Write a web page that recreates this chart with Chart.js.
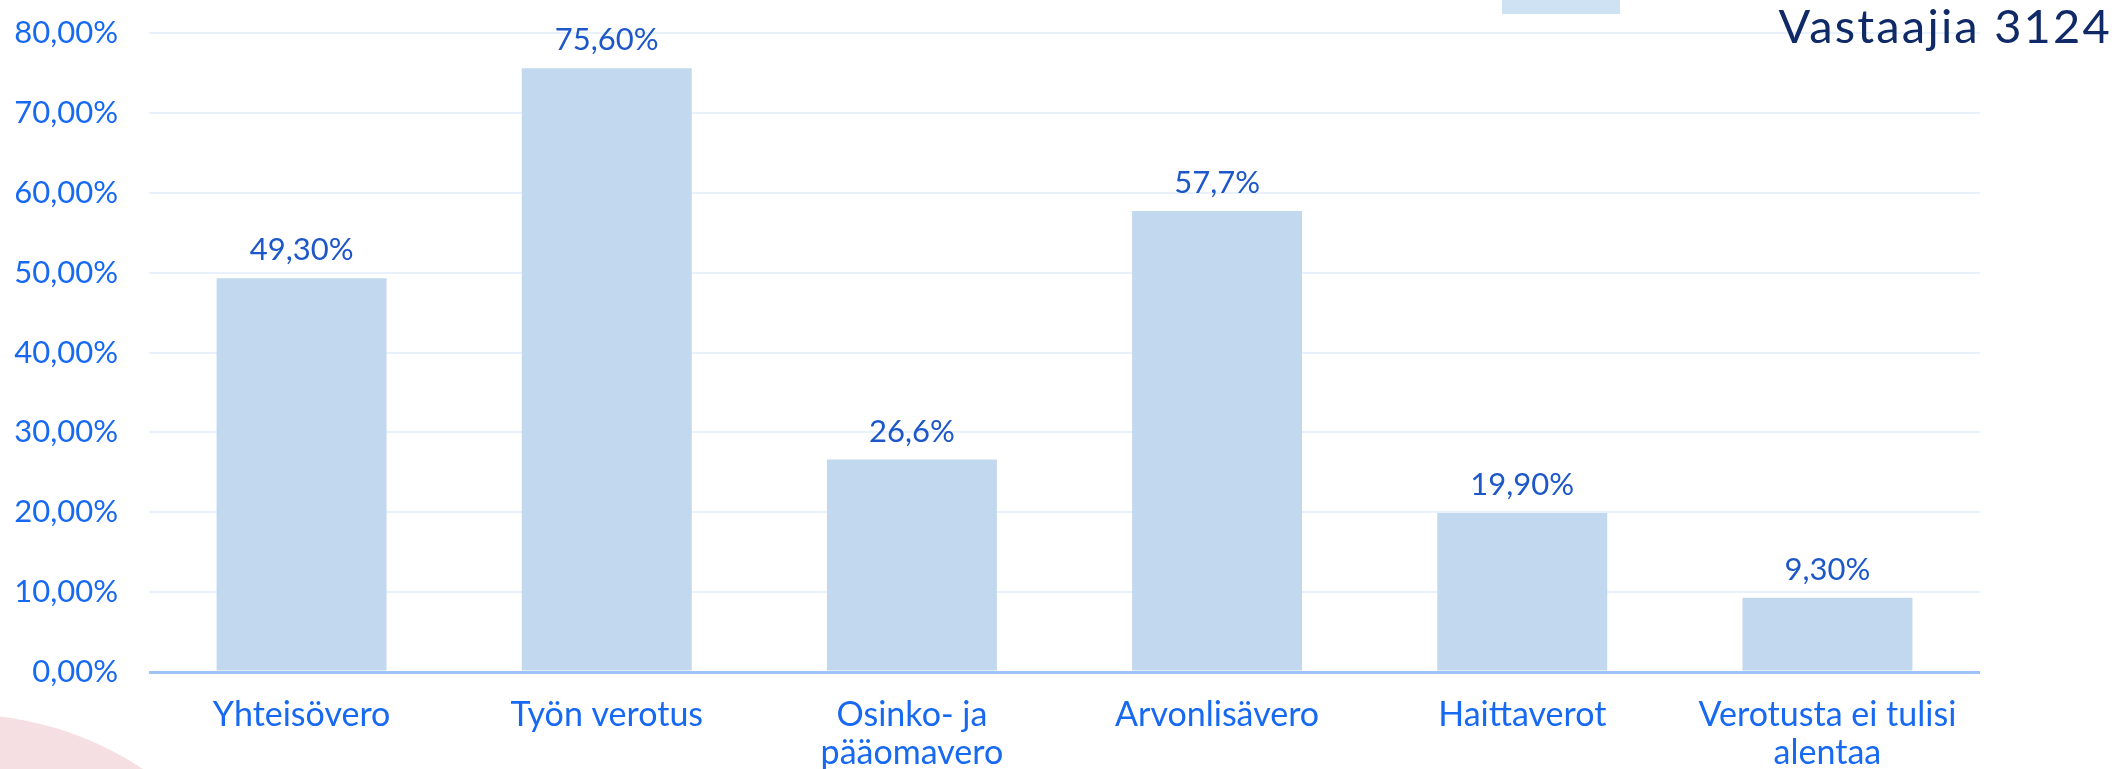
<!DOCTYPE html>
<html>
<head>
<meta charset="utf-8">
<script src="https://cdn.jsdelivr.net/npm/chart.js"></script>
<style>
  body { margin: 0; background: white; }
  .area_body { width: 2121px; height: 769px; position: relative; }
</style>
</head>
<body>
<div class="area_body">
  <canvas id="myChart" width="2121" height="769"></canvas>
</div>
<script>
  // データ
  var categories = [
    'Yhteisövero',
    'Työn verotus',
    ['Osinko- ja', 'pääomavero'],
    'Arvonlisävero',
    'Haittaverot',
    ['Verotusta ei tulisi', 'alentaa']
  ];
  var values = [49.3, 75.6, 26.6, 57.7, 19.9, 9.3];
  var valueLabels = ['49,30%', '75,60%', '26,6%', '57,7%', '19,90%', '9,30%'];
  var yTickLabels = ['0,00%', '10,00%', '20,00%', '30,00%', '40,00%', '50,00%', '60,00%', '70,00%', '80,00%'];
  var respondents = 'Vastaajia 3124';

  var fontName = 'Lato, "Open Sans", sans-serif';

  // 背景の飾り（ピンクの円・凡例の四角・回答者数）
  var decoration = {
    id: 'decoration',
    beforeDraw: function (chart) {
      var c = chart.ctx;
      c.save();
      c.fillStyle = '#f6dfe3';
      c.beginPath();
      c.arc(-40, 1046, 332, 0, Math.PI * 2);
      c.fill();
      c.fillStyle = '#cfe2f3';
      c.fillRect(1502, 0, 118, 14);
      c.restore();
    },
    afterDraw: function (chart) {
      var c = chart.ctx;
      c.save();
      c.fillStyle = '#0f2a66';
      c.font = '47px ' + fontName;
      c.letterSpacing = '2.2px';
      c.textAlign = 'right';
      c.textBaseline = 'alphabetic';
      c.fillText(respondents, 2112, 43);
      c.restore();
    }
  };

  // 棒の上の数値ラベル
  var barLabels = {
    id: 'barLabels',
    afterDatasetsDraw: function (chart) {
      var c = chart.ctx;
      var meta = chart.getDatasetMeta(0);
      c.save();
      c.fillStyle = '#1d57c8';
      c.font = '31px ' + fontName;
      c.textAlign = 'center';
      c.textBaseline = 'alphabetic';
      meta.data.forEach(function (bar, i) {
        c.fillText(valueLabels[i], bar.x, bar.y - 18);
      });
      c.restore();
    }
  };

  var ctx = document.getElementById('myChart').getContext('2d');
  var myChart = new Chart(ctx, {
    type: 'bar',
    data: {
      labels: categories,
      datasets: [
        {
          data: values,
          backgroundColor: '#c2d8ee',
          borderWidth: 0,
          barPercentage: 0.557,
          categoryPercentage: 1
        }
      ]
    },
    options: {
      responsive: false,
      animation: false,
      layout: { padding: { top: 33, right: 141, left: 0, bottom: 0 } },
      plugins: {
        legend: { display: false },
        tooltip: { enabled: false }
      },
      scales: {
        x: {
          grid: { display: false },
          border: { display: false },
          ticks: {
            color: '#1769f2',
            font: { family: fontName, size: 34, lineHeight: 1.12 },
            padding: 16,
            maxRotation: 0,
            autoSkip: false
          },
          afterFit: function (scale) { scale.height = 97; }
        },
        y: {
          min: 0,
          max: 80,
          border: { display: false },
          grid: {
            drawTicks: true,
            tickLength: 31,
            tickColor: 'transparent',
            color: function (c) { return c.tick && c.tick.value === 0 ? '#9fc4f7' : '#e8f1fc'; },
            lineWidth: function (c) { return c.tick && c.tick.value === 0 ? 3 : 2; }
          },
          ticks: {
            stepSize: 10,
            color: '#1769f2',
            font: { family: fontName, size: 31 },
            padding: 0,
            callback: function (value, index) { return yTickLabels[index]; }
          },
          afterFit: function (scale) { scale.width = 149; }
        }
      }
    },
    plugins: [decoration, barLabels]
  });
</script>
</body>
</html>
